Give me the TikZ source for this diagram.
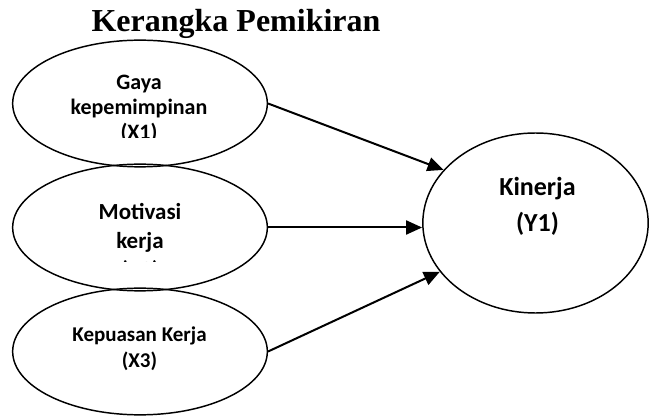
\documentclass[tikz,border=0pt]{standalone}
\usepackage{fontspec}
\setmainfont{Liberation Serif}
\newfontfamily\calib{Carlito}
\usetikzlibrary{arrows.meta,shapes.geometric}
\begin{document}
\begin{tikzpicture}[x=0.75pt, y=-0.75pt,
    oval/.style={ellipse, draw, line width=1.1pt, inner sep=0pt},
    lbl/.style={align=center, inner sep=0pt, anchor=base},
    link/.style={line width=1.5pt, -{Triangle[length=12pt, width=10.5pt]}}]
    \useasboundingbox (0,0) rectangle (649,416);
    \node[inner sep=0pt, anchor=base, font=\bfseries\fontsize{24}{28}\selectfont] (title) at (236,32) {Kerangka Pemikiran};
    % variabel X
    \foreach \i/\y in {1/103.5,2/227.5,3/351.5} {
        \node[oval, minimum width=191pt, minimum height=95pt] (x\i) at (140,\y) {};
    }
    \node[oval, minimum width=169pt, minimum height=135pt] (y1) at (535.5,223) {};
    % teks (terpotong seperti aslinya)
    \begin{scope}
        \clip (0,0) rectangle (649,138);
        \node[lbl, font=\calib\bfseries\fontsize{16.5}{18.75}\selectfont] (t1) at (139,140) {Gaya\\kepemimpinan\\(X1)};
    \end{scope}
    \begin{scope}
        \clip (0,0) rectangle (649,262);
        \node[lbl, font=\calib\bfseries\fontsize{17.25}{21.75}\selectfont] (t2) at (140,278) {Motivasi\\kerja\\(X2)};
    \end{scope}
    \node[lbl, font=\calib\bfseries\fontsize{15.75}{19.5}\selectfont] (t3) at (139.5,367) {Kepuasan Kerja\\(X3)};
    \node[lbl, font=\calib\bfseries\fontsize{19.5}{27}\selectfont] (t4) at (537.5,232) {Kinerja\\(Y1)};
    % panah
    \draw[link] (x1.east) -- (y1.150);
    \draw[link] (x2.east) -- (x2.east -| y1.west);
    \draw[link] (x3.east) -- (y1.207);
\end{tikzpicture}
\end{document}
